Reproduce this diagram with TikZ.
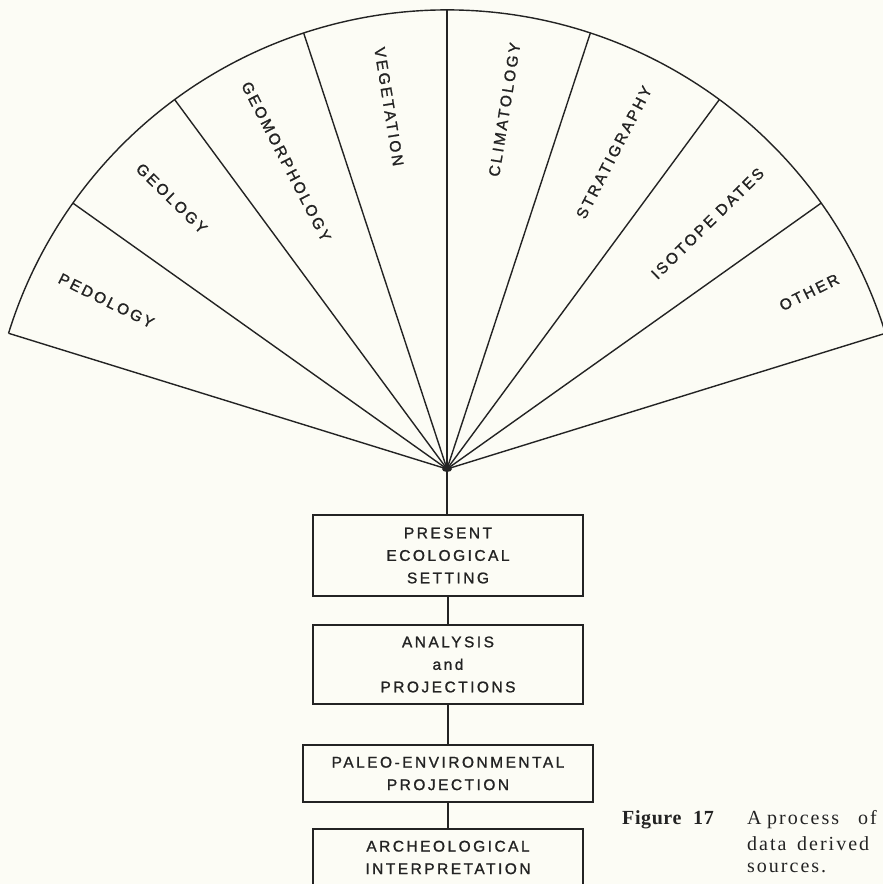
\documentclass[tikz,border=0pt]{standalone}
\usepackage{fontspec}
\setmainfont{Liberation Serif}
\newfontfamily\lblfont[LetterSpace=16,FakeBold=1.2]{Liberation Sans}
\newfontfamily\capfont[LetterSpace=10]{Liberation Serif}
\newfontfamily\capbfont[LetterSpace=3]{Liberation Serif}
\usetikzlibrary{calc}
\definecolor{paper}{RGB}{252,252,245}
\definecolor{ink}{RGB}{35,35,35}
\begin{document}
\begin{tikzpicture}[x=1pt,y=1pt,
  lbl/.style={font=\lblfont\fontsize{15.5}{22.5}\selectfont, text=ink, inner sep=0pt},
  stage/.style={draw=ink, line width=1.5pt, rectangle, align=center,
    font=\lblfont\fontsize{15.5}{22.5}\selectfont, text=ink, inner sep=0pt},
  ray/.style={draw=ink, line width=1.4pt},
  capt/.style={font=\capfont\fontsize{20}{24}\selectfont, text=ink, anchor=base west, inner sep=0pt},
  captb/.style={font=\capbfont\bfseries\fontsize{20}{24}\selectfont, text=ink, anchor=base west, inner sep=0pt},
]
\fill[paper] (0,0) rectangle (883,884);
\useasboundingbox (0,0) rectangle (883,884);
\clip (0,0) rectangle (883,884);

% fan
\coordinate (C) at (447,415);
\foreach \a [count=\i] in {17.2,35.4,53.6,71.8,90,108.2,126.4,144.6,162.8}
  \coordinate (e\i) at ($(C)+(\a:459)$);
\foreach \i in {1,...,9}
  \draw[ray] (C) -- (e\i);
\draw[ray] (e1) arc[start angle=17.2, end angle=162.8, radius=459];
\fill[ink] (C) ellipse [x radius=5, y radius=3];

% sector labels
\node[lbl, rotate=-26.3] (pedology) at ($(C)+(153.7:380)$) {PEDOLOGY};
\node[lbl, rotate=-44.5] (geology) at ($(C)+(135.5:386)$) {GEOLOGY};
\node[lbl, rotate=-62.7] (geomorph) at ($(C)+(117.6:347)$) {GEOMORPHOLOGY};
\node[lbl, rotate=-80.9] (vegetation) at ($(C)+(99.1:367)$) {VEGETATION};
\node[lbl, rotate=80.9] (climatology) at ($(C)+(80.9:364)$) {CLIMATOLOGY};
\node[lbl, rotate=62.7] (stratigraphy) at ($(C)+(62.2:358)$) {STRATIGRAPHY};
\node[lbl, rotate=44.5] (isotope) at ($(C)+(43.3:358)$) {ISOTOPE DATES};
\node[lbl, rotate=26.3] (other) at ($(C)+(26.0:403)$) {OTHER};

% stages
\node[stage, minimum width=270pt, minimum height=81pt] (present) at (448,328.5)
  {PRESENT\\ECOLOGICAL\\SETTING};
\node[stage, minimum width=270pt, minimum height=79pt] (analysis) at (448,219.5)
  {ANALYSIS\\and\\PROJECTIONS};
\node[stage, minimum width=290pt, minimum height=57pt] (paleo) at (448,110.5)
  {PALEO-ENVIRONMENTAL\\PROJECTION};
\node[stage, minimum width=270pt, minimum height=57pt] (archeo) at (448,26.5)
  {ARCHEOLOGICAL\\INTERPRETATION};

\draw[ray] (C) -- (C |- present.north);
\draw[ray] (present.south) -- (analysis.north);
\draw[ray] (analysis.south) -- (paleo.north);
\draw[ray] (paleo.south) -- (archeo.north);

% caption
\node[captb] (fig) at (622,59) {Figure};
\node[captb] (num) at (693,59) {17};
\node[capt] (w1) at (747,59) {A};
\node[capt] (w2) at (767,59) {process};
\node[capt] (w3) at (858,59) {of};
\node[capt] (w4) at (747,34) {data};
\node[capt] (w5) at (797,34) {derived};
\node[capt] (w6) at (747,12) {sources.};
\end{tikzpicture}
\end{document}
